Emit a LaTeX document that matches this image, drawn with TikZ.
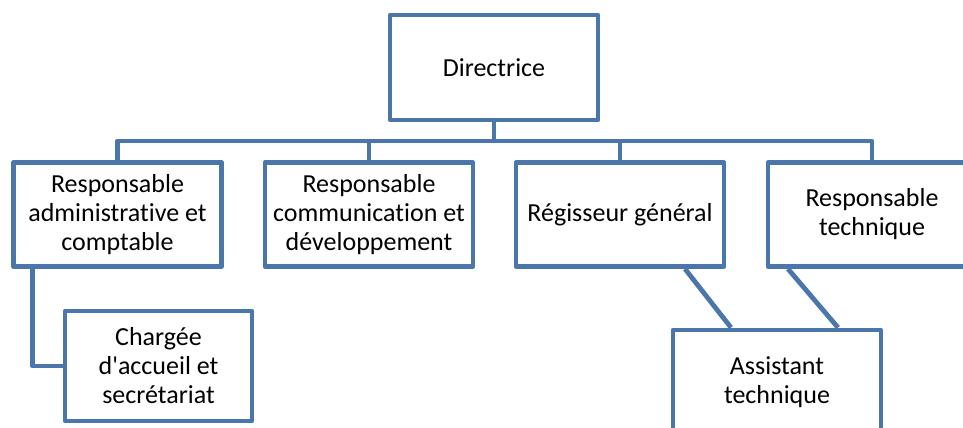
\documentclass[tikz,border=0pt]{standalone}
\usepackage{fontspec}
\setmainfont{Carlito}
\newfontfamily\orgfont{Carlito}[Ligatures=NoCommon]
\usetikzlibrary{calc}
\definecolor{orgblue}{HTML}{4A76AC}
\tikzset{
  box/.style={draw=orgblue, line width=4.8pt, line join=round, fill=white,
    minimum width=208pt, minimum height=104pt, inner sep=0pt, align=center,
    font=\orgfont\fontsize{26}{29}\selectfont},
  link/.style={draw=orgblue, line width=4.8pt, line join=round}
}
\begin{document}
\begin{tikzpicture}[x=1pt,y=-1pt]
\useasboundingbox (0,0) rectangle (963,428);
\clip (0,0) rectangle (963,428);
\coordinate (bus) at (0,141);
\node[box, minimum height=105pt] (dir) at (494,67.5) {Directrice};
\node[box] (b1) at (117.5,214.5) {Responsable\\administrative et\\comptable};
\node[box] (b2) at (369,214.5) {Responsable\\communication et\\développement};
\node[box] (b3) at (620,214.5) {Régisseur général};
\node[box] (b4) at (872,214.5) {Responsable\\technique};
\node[box, minimum width=187pt, minimum height=110pt] (c) at (158.5,366) {Chargée\\d'accueil et\\secrétariat};
\node[box] (a) at (777,382) {Assistant\\technique};
\draw[link] (dir.south) -- (dir.south |- bus);
\draw[link] (b1.north) |- (bus -| b4.north) -- (b4.north);
\draw[link] (b2.north) -- (b2.north |- bus);
\draw[link] (b3.north) -- (b3.north |- bus);
\coordinate (b1l) at ($(b1.south west)+(21,0)$);
\draw[link] (b1l) |- (c.west);
\draw[link] ($(b3.south)+(65,0)$) -- ($(a.north)+(-46,0)$);
\draw[link] ($(b4.south)+(-84,0)$) -- ($(a.north)+(61,0)$);
\end{tikzpicture}
\end{document}
